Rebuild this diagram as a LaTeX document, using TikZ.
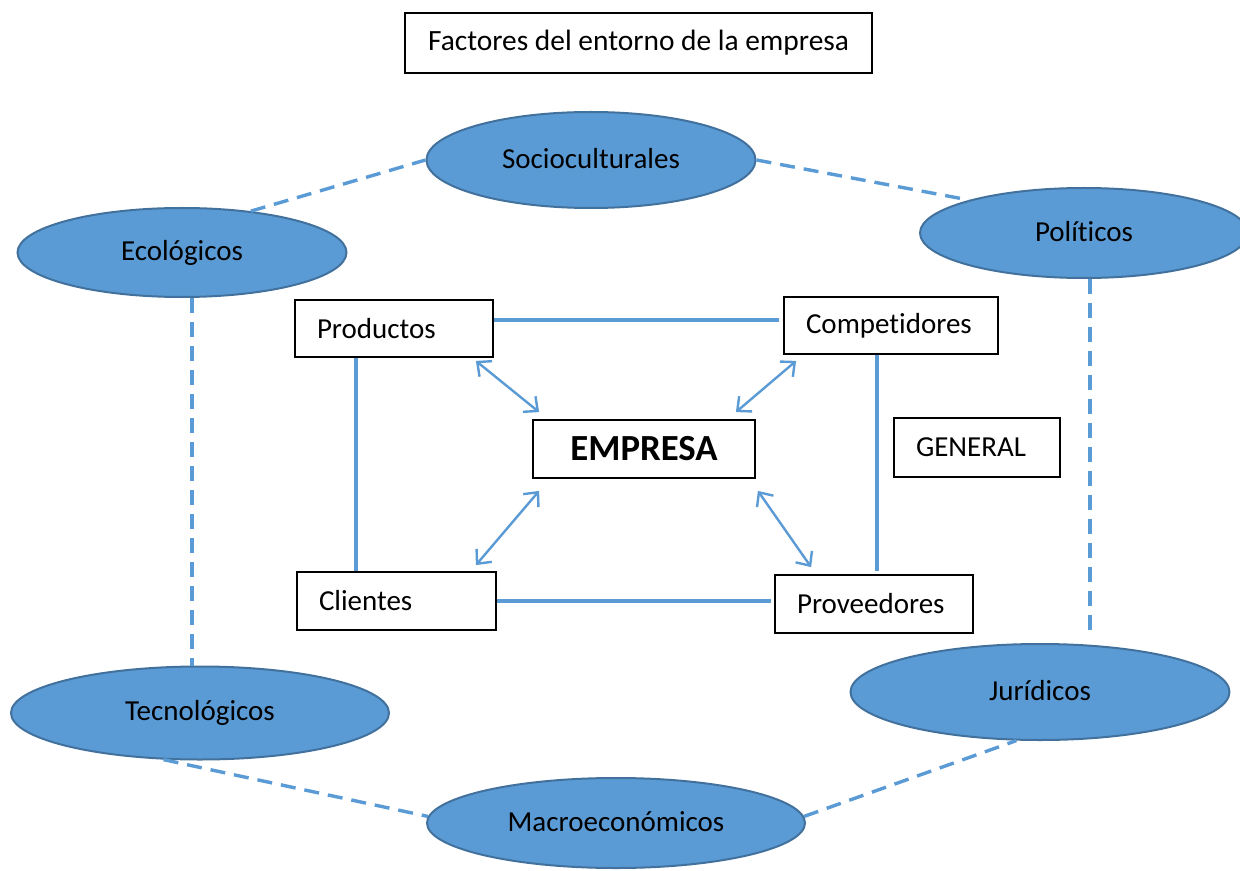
\documentclass[tikz,border=0pt]{standalone}
\usepackage{fontspec}
\setmainfont[Ligatures={NoCommon}]{Carlito}
\usepackage{xcolor}
\usepackage{tikz}
\usetikzlibrary{shapes.geometric,arrows.meta}
\definecolor{azul}{HTML}{5B9BD5}
\definecolor{borde}{HTML}{41719C}

\begin{document}
\begin{tikzpicture}[x=0.5pt,y=-0.5pt,
    caja/.style={draw,line width=0.9pt,minimum height=28.5pt,inner xsep=11pt,text width=#1,align=left,font=\fontsize{14.5}{17}\selectfont},
    elipse/.style={ellipse,draw=borde,line width=1pt,fill=azul,inner sep=0pt,font=\fontsize{14.5}{17}\selectfont},
    enlace/.style={azul,line width=1.6pt},
    punteado/.style={azul,line width=1.7pt,dash pattern=on 7.5pt off 4.5pt},
    doble/.style={azul,line width=1.2pt,{Straight Barb[length=5.5pt,width=10pt]}-{Straight Barb[length=5.5pt,width=10pt]}}]
    \useasboundingbox (0,0) rectangle (1240,871);
    % Titulo
    \node[draw,line width=0.9pt,minimum width=233.5pt,minimum height=30pt,font=\fontsize{14.7}{17}\selectfont] (titulo) at (638.5,43) {Factores del entorno de la empresa};
    % Elipses
    \node[elipse,minimum width=164.5pt,minimum height=48pt] (socio) at (591,160) {\raisebox{2pt}{Socioculturales}};
    \node[elipse,minimum width=164.5pt,minimum height=44.5pt] (eco) at (182,252.5) {\raisebox{1pt}{Ecológicos}};
    \node[elipse,minimum width=164pt,minimum height=45pt] (pol) at (1084,233) {\raisebox{1.5pt}{Políticos}};
    \node[elipse,minimum width=189pt,minimum height=46.5pt] (tec) at (200,713) {\raisebox{1pt}{Tecnológicos}};
    \node[elipse,minimum width=189.5pt,minimum height=48pt] (jur) at (1040,692) {\raisebox{2pt}{Jurídicos}};
    \node[elipse,minimum width=189pt,minimum height=45pt] (macro) at (616,823) {\raisebox{1pt}{Macroeconómicos}};
    % Cajas
    \node[caja=77pt] (prod) at (394,328.5) {Productos};
    \node[caja=85pt] (comp) at (891,325.5) {Competidores};
    \node[caja=77.5pt,minimum height=29pt] (cli) at (396.5,601) {Clientes};
    \node[caja=77pt,minimum height=29pt] (prov) at (874,604) {Proveedores};
    \node[caja=61pt,minimum height=29.5pt] (gen) at (977,447.5) {GENERAL};
    \node[draw,line width=0.9pt,minimum width=111pt,minimum height=29pt,font=\fontsize{18.4}{21}\selectfont\bfseries] (emp) at (644,449) {EMPRESA};
    % Lineas del entorno especifico
    \draw[enlace] ([yshift=4.25pt]prod.east) -- ([yshift=4.25pt,xshift=-2pt]prod.east -| comp.west);
    \draw[enlace] ([xshift=-19pt]prod.south) -- ([xshift=-19pt]prod.south |- cli.north);
    \draw[enlace] (cli.east) -- ([xshift=-1.5pt]cli.east -| prov.west);
    \draw[enlace] ([xshift=-7pt]comp.south) -- ([xshift=-7pt,yshift=1.5pt]comp.south |- prov.north);
    % Flechas dobles
    \draw[doble] ([xshift=-9pt,yshift=-1.5pt]prod.south east) -- ([xshift=3.5pt,yshift=3.5pt]emp.north west);
    \draw[doble] ([xshift=6.5pt,yshift=-3pt]comp.south west) -- ([xshift=-10pt,yshift=3.5pt]emp.north east);
    \draw[doble] ([xshift=3.5pt,yshift=-6pt]emp.south west) -- ([xshift=-10.5pt,yshift=3pt]cli.north east);
    \draw[doble] ([xshift=1pt,yshift=-6pt]emp.south east) -- ([xshift=18.5pt,yshift=3.5pt]prov.north west);
    % Lineas punteadas
    \draw[punteado] (eco.31) -- (socio.west);
    \draw[punteado] (socio.east) -- (pol.164);
    \draw[punteado] ([xshift=5pt]eco.south) -- ([xshift=5pt]eco.south |- tec.north);
    \draw[punteado] ([xshift=3pt]pol.south) -- ([xshift=3pt,yshift=6pt]pol.south |- jur.north);
    \draw[punteado] (tec.232) -- (macro.178);
    \draw[punteado] (macro.2) -- (jur.244);
\end{tikzpicture}
\end{document}
